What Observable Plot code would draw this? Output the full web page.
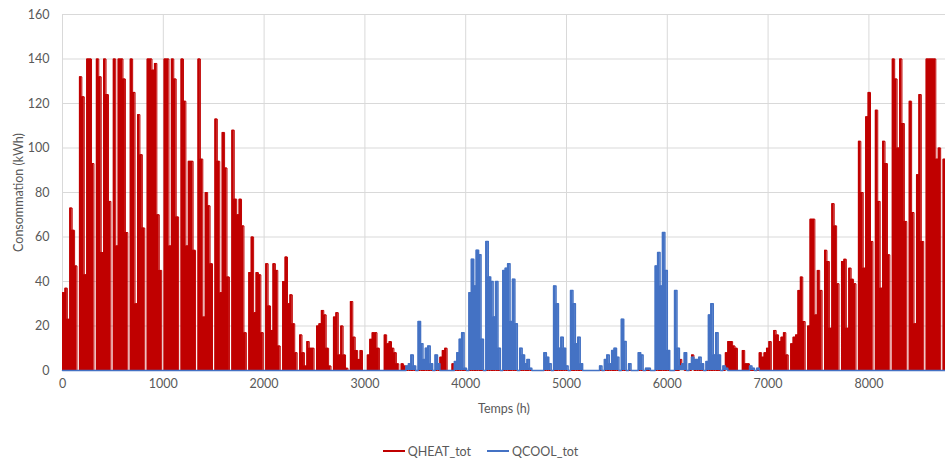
<!DOCTYPE html>
<html>
<head>
<meta charset="utf-8">
<script src="https://cdn.jsdelivr.net/npm/d3@7"></script>
<script src="https://cdn.jsdelivr.net/npm/@observablehq/plot@0.6"></script>
<style>
  html, body { margin: 0; padding: 0; background: #fff; }
  body { width: 945px; height: 459px; overflow: hidden; font-family: Lato, "Open Sans", sans-serif; }
  #legend { display: flex; justify-content: center; align-items: center; margin-top: 18px; height: 16px; padding-left: 16px; font-size: 12.5px; color: #595959; }
  .item { display: flex; align-items: center; margin: 0 8px; }
  .swatch { width: 22px; height: 2px; margin-right: 3px; }
</style>
</head>
<body>
<div id="chart"></div>
<div id="legend"></div>
<script>
// Daily peak consumption (kWh), per week: Monday..Saturday (Sunday off)
const heatWeeks = [
  [35,37,23,73,63,47],[132,123,43,140,140,93],[140,132,53,140,124,76],[140,56,140,140,131,62],
  [140,125,30,115,97,64],[140,140,135,138,70,45],[140,140,56,140,131,69],[140,121,56,94,94,54],
  [140,95,24,80,74,48],[113,94,35,107,91,42],[108,77,70,77,65,17],[44,60,26,44,43,17],
  [48,29,18,48,45,11],[40,51,30,34,21,8],[16,8,2,13,10,10],[20,21,27,25,10,2],
  [24,26,7,20,7,1],[31,15,9,5,9,0],[7,14,17,17,10,0],[16,12,13,10,8,3],
  [3,2,0,0,0,0],[0,0,0,0,0,0],[0,0,6,9,10,0],[3,0,0,0,0,0],
  [0,0,0,0,0,0],[0,0,0,0,0,0],[0,0,0,0,0,0],[0,0,0,0,0,0],
  [0,0,0,0,0,0],[0,0,0,0,0,0],[0,0,0,0,0,0],[0,0,0,0,0,0],
  [0,0,0,0,0,0],[0,0,0,0,0,0],[0,0,0,0,0,0],[0,0,0,0,0,0],
  [0,0,0,5,2,0],[0,7,0,0,0,0],[0,0,0,0,0,0],[0,8,13,13,11,10],
  [0,9,3,3,0,0],[0,8,6,8,10,13],[18,16,13,15,17,7],[12,15,16,36,42,22],
  [20,68,68,25,45,36],[54,49,19,75,65,39],[49,50,19,46,41,39],[103,80,46,114,125,58],
  [117,76,37,103,93,52],[140,131,100,140,111,67],[121,71,21,88,124,58],[140,140,140,140,95,100]
];
const heatLastDay = 95;

const coolWeeks = [
  [0,0,0,0,0,0],[0,0,0,0,0,0],[0,0,0,0,0,0],[0,0,0,0,0,0],
  [0,0,0,0,0,0],[0,0,0,0,0,0],[0,0,0,0,0,0],[0,0,0,0,0,0],
  [0,0,0,0,0,0],[0,0,0,0,0,0],[0,0,0,0,0,0],[0,0,0,0,0,0],
  [0,0,0,0,0,0],[0,0,0,0,0,0],[0,0,0,0,0,0],[0,0,0,0,0,0],
  [0,0,0,0,0,0],[0,0,0,0,0,0],[0,0,0,0,0,0],[0,0,0,0,0,0],
  [0,0,2,3,7,2],[22,12,5,10,11,3],[7,3,0,0,0,0],[0,4,8,14,17,1],
  [35,50,38,54,52,14],[58,42,40,24,40,10],[45,46,48,22,41,21],[10,7,3,5,1,0],
  [0,0,0,8,6,3],[38,30,10,15,10,2],[36,30,12,15,3,0],[0,0,0,0,0,2],
  [5,7,3,9,10,6],[23,13,0,3,0,0],[8,7,0,1,1,0],[47,53,38,62,45,9],
  [0,36,10,2,3,8],[3,6,5,5,6,3],[4,25,30,7,17,7],[2,1,0,0,0,0],
  [0,0,0,0,2,1],[1,0,0,0,0,0],[0,0,0,0,0,0],[0,0,0,0,0,0],
  [0,0,0,0,0,0],[0,0,0,0,0,0],[0,0,0,0,0,0],[0,0,0,0,0,0],
  [0,0,0,0,0,0],[0,0,0,0,0,0],[0,0,0,0,0,0],[0,0,0,0,0,0]
];
const coolLastDay = 0;

const xTicks = [0,1000,2000,3000,4000,5000,6000,7000,8000];
const yTicks = [0,20,40,60,80,100,120,140,160];
const seriesNames = ["QHEAT_tot", "QCOOL_tot"];
const seriesColors = ["#C00000", "#4472C4"];

// Build hourly-indexed table (one row per day start)
const rows = [];
heatWeeks.forEach((w, wi) => {
  for (let d = 0; d < 7; d++) {
    rows.push({t: (wi * 7 + d) * 24, heat: d < 6 ? w[d] : 0, cool: d < 6 ? coolWeeks[wi][d] : 0});
  }
});
rows.push({t: 364 * 24, heat: heatLastDay, cool: coolLastDay});
rows.push({t: 365 * 24, heat: heatLastDay, cool: coolLastDay});

const plot = Plot.plot({
  width: 945,
  height: 425,
  marginLeft: 62,
  marginRight: 0,
  marginTop: 14,
  marginBottom: 55,
  style: {fontFamily: "Lato, 'Open Sans', sans-serif", fontSize: "12px", color: "#595959", background: "#fff"},
  x: {domain: [0, 8760]},
  y: {domain: [0, 160]},
  marks: [
    Plot.gridY(yTicks, {stroke: "#d9d9d9", strokeOpacity: 1, strokeWidth: 1}),
    Plot.gridX(xTicks, {stroke: "#d9d9d9", strokeOpacity: 1, strokeWidth: 1}),
    Plot.areaY(rows, {x: "t", y: "heat", curve: "step-after", fill: seriesColors[0]}),
    Plot.lineY(rows, {x: "t", y: "heat", curve: "step-after", stroke: seriesColors[0], strokeWidth: 1}),
    Plot.areaY(rows, {x: "t", y: "cool", curve: "step-after", fill: seriesColors[1]}),
    Plot.lineY(rows, {x: "t", y: "cool", curve: "step-after", stroke: seriesColors[1], strokeWidth: 1.5}),
    Plot.axisY(yTicks, {tickSize: 0, tickPadding: 13, tickFormat: d => String(d), label: "Consommation (kWh)", labelAnchor: "center", labelArrow: "none", labelOffset: 48, fontSize: 12.5}),
    Plot.axisX(xTicks, {tickSize: 0, tickPadding: 9, tickFormat: d => String(d), label: "Temps (h)", labelAnchor: "center", labelArrow: "none", labelOffset: 42, fontSize: 12.5})
  ]
});
document.getElementById("chart").appendChild(plot);

const legend = document.getElementById("legend");
seriesNames.forEach((name, i) => {
  const item = document.createElement("div");
  item.className = "item";
  const sw = document.createElement("div");
  sw.className = "swatch";
  sw.style.background = seriesColors[i];
  const label = document.createElement("span");
  label.textContent = name;
  item.appendChild(sw);
  item.appendChild(label);
  legend.appendChild(item);
});
</script>
</body>
</html>
